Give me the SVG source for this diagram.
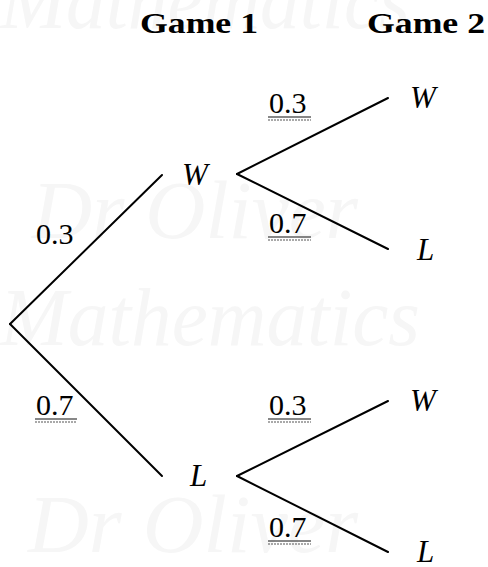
<svg xmlns="http://www.w3.org/2000/svg" width="488" height="567" viewBox="0 0 488 567">
<style>
.wm{font-family:"Liberation Serif",serif;font-style:italic;font-size:82px;fill:#f6f6f6}
.hd{font-family:"Liberation Serif",serif;font-weight:bold;font-size:30px;fill:#000}
.nd{font-family:"Liberation Serif",serif;font-style:italic;font-size:31px;fill:#000}
.pr{font-family:"Liberation Serif",serif;font-size:30px;fill:#000}
.ed{stroke:#000;stroke-width:2;fill:none;stroke-linecap:round}
.u1{stroke:#111;stroke-width:1.2}
.u2{stroke:#555;stroke-width:1.2;stroke-dasharray:2 1}
</style>
<rect width="488" height="567" fill="#fff"/>
<g id="watermark">
<text class="wm" x="0" y="28" textLength="410" lengthAdjust="spacingAndGlyphs">Mathematics</text>
<text class="wm" x="32" y="238" textLength="326" lengthAdjust="spacingAndGlyphs">Dr Oliver</text>
<text class="wm" x="0" y="345" textLength="420" lengthAdjust="spacingAndGlyphs">Mathematics</text>
<text class="wm" x="28" y="552" textLength="330" lengthAdjust="spacingAndGlyphs">Dr Oliver</text>
</g>
<g id="headers">
<text class="hd" x="140" y="33" textLength="118" lengthAdjust="spacingAndGlyphs">Game 1</text>
<text class="hd" x="367" y="33" textLength="118" lengthAdjust="spacingAndGlyphs">Game 2</text>
</g>
<g id="connectors">
<line class="ed" x1="10" y1="324" x2="162" y2="175"/>
<line class="ed" x1="10" y1="324" x2="162" y2="476"/>
<line class="ed" x1="237" y1="174" x2="388" y2="98"/>
<line class="ed" x1="237" y1="174" x2="388" y2="249"/>
<line class="ed" x1="237" y1="476" x2="388" y2="401"/>
<line class="ed" x1="237" y1="476" x2="388" y2="552"/>
</g>
<g id="edge-labels">
<g id="p-root-W"><text class="pr" x="36" y="244">0.3</text></g>
<g id="p-root-L"><text class="pr" x="36" y="415">0.7</text>
<line class="u1" x1="35" y1="419" x2="77" y2="419"/><line class="u2" x1="35" y1="422" x2="77" y2="422"/></g>
<g id="p-W-W"><text class="pr" x="269" y="113">0.3</text>
<line class="u1" x1="268" y1="117" x2="311" y2="117"/><line class="u2" x1="268" y1="120" x2="311" y2="120"/></g>
<g id="p-W-L"><text class="pr" x="269" y="233">0.7</text>
<line class="u1" x1="268" y1="237" x2="311" y2="237"/><line class="u2" x1="268" y1="240" x2="311" y2="240"/></g>
<g id="p-L-W"><text class="pr" x="269" y="415">0.3</text>
<line class="u1" x1="268" y1="419" x2="311" y2="419"/><line class="u2" x1="268" y1="422" x2="311" y2="422"/></g>
<g id="p-L-L"><text class="pr" x="269" y="537">0.7</text>
<line class="u1" x1="268" y1="541" x2="311" y2="541"/><line class="u2" x1="268" y1="544" x2="311" y2="544"/></g>
</g>
<g id="node-W1"><text class="nd" x="182" y="185">W</text></g>
<g id="node-L1"><text class="nd" x="190" y="486">L</text></g>
<g id="node-WW"><text class="nd" x="410" y="108">W</text></g>
<g id="node-WL"><text class="nd" x="417" y="260">L</text></g>
<g id="node-LW"><text class="nd" x="410" y="411">W</text></g>
<g id="node-LL"><text class="nd" x="417" y="562">L</text></g>
</svg>
